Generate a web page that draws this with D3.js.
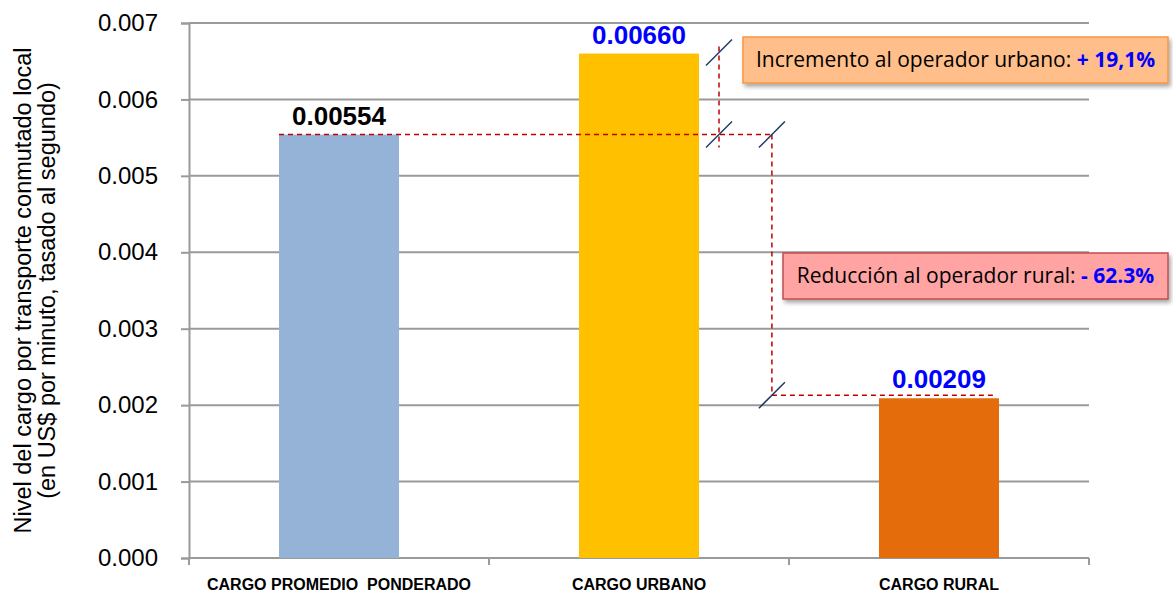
<!DOCTYPE html>
<html>
<head>
<meta charset="utf-8">
<script src="https://cdn.jsdelivr.net/npm/d3@7"></script>
<style>
  html, body { margin: 0; padding: 0; background: #fff; }
  svg { display: block; font-family: "Liberation Sans", Arial, sans-serif; }
</style>
</head>
<body>
<svg id="chart" width="1173" height="593"></svg>
<script>
// ---- data ----
const categories = ["CARGO PROMEDIO  PONDERADO", "CARGO URBANO", "CARGO RURAL"];
const values = [0.00554, 0.00660, 0.00209];
const valueLabels = ["0.00554", "0.00660", "0.00209"];
const barColors = ["#95B3D7", "#FFC000", "#E46C0A"];
const labelColors = ["#000000", "#0000FF", "#0000FF"];
const yTicks = [0, 0.001, 0.002, 0.003, 0.004, 0.005, 0.006, 0.007];
const yTitle = ["Nivel del cargo por transporte conmutado local", "(en US$ por minuto, tasado al segundo)"];
const noteUrban = ["Incremento al operador urbano: ", "+ 19,1%"];
const noteRural = ["Reducción al operador rural: ", "- 62.3%"];

// ---- layout ----
const svg = d3.select("#chart");
const pLeft = 189, pRight = 1089, pTop = 23, pBottom = 558;

const x = d3.scaleBand().domain(categories).range([pLeft, pRight]).paddingInner(0.6).paddingOuter(0.3);
const y = d3.scaleLinear().domain([0, 0.007]).range([pBottom, pTop]);

// gridlines
svg.append("g").selectAll("line").data(yTicks).join("line")
  .attr("x1", pLeft).attr("x2", pRight)
  .attr("y1", d => y(d)).attr("y2", d => y(d))
  .attr("stroke", "#9a9a9a").attr("stroke-width", 2);

// y axis
const yAxis = d3.axisLeft(y).tickValues(yTicks).tickFormat(d3.format(".3f")).tickSize(8).tickPadding(23);
const gy = svg.append("g").attr("transform", `translate(${pLeft},0)`).call(yAxis);
gy.select(".domain").attr("stroke", "#9a9a9a").attr("stroke-width", 2);
gy.selectAll(".tick line").attr("stroke", "#9a9a9a").attr("stroke-width", 2);
gy.selectAll(".tick text").attr("font-size", 24).attr("fill", "#000")
  .attr("font-family", "Liberation Sans, Arial, sans-serif");

// x axis
const xAxis = d3.axisBottom(x).tickSize(0).tickPadding(21);
const gx = svg.append("g").attr("transform", `translate(0,${pBottom})`).call(xAxis);
gx.select(".domain").remove();
gx.selectAll(".tick text").attr("font-size", 16).attr("font-weight", "bold").attr("fill", "#000")
  .attr("font-family", "Liberation Sans, Arial, sans-serif").style("white-space", "pre");
// category separator ticks
const sepX = [pLeft, ...categories.map(c => x(c) + x.bandwidth() + x.step() * 0.3)];
svg.append("g").selectAll("line").data(sepX).join("line")
  .attr("x1", d => d).attr("x2", d => d)
  .attr("y1", pBottom).attr("y2", pBottom + 7)
  .attr("stroke", "#9a9a9a").attr("stroke-width", 2);

// y title
const yt = svg.append("text").attr("transform", `translate(31,${(pTop + pBottom) / 2}) rotate(-90)`)
  .attr("text-anchor", "middle").attr("font-size", 23.5).attr("fill", "#000");
yt.selectAll("tspan").data(yTitle).join("tspan")
  .attr("x", 0).attr("dy", (d, i) => i === 0 ? 0 : 24).text(d => d);

// bars
svg.append("g").selectAll("rect").data(values).join("rect")
  .attr("x", (d, i) => x(categories[i])).attr("width", x.bandwidth())
  .attr("y", d => y(d)).attr("height", d => pBottom - y(d))
  .attr("fill", (d, i) => barColors[i]);

// value labels
svg.append("g").selectAll("text").data(values).join("text")
  .attr("x", (d, i) => x(categories[i]) + x.bandwidth() / 2)
  .attr("y", d => y(d) - 10)
  .attr("text-anchor", "middle").attr("font-size", 26).attr("font-weight", "bold")
  .attr("fill", (d, i) => labelColors[i]).text((d, i) => valueLabels[i]);

// ---- annotation guides ----
const red = "#C00000", navy = "#1F3864";
const xu = x(categories[1]), xr = x(categories[2]), bw = x.bandwidth();
const xA = xu + bw + 20;            // vertical guide next to urban bar
const xB = xr - x.step() * 0.357;   // vertical guide before rural bar
const yAvg = y(values[0]), yUrb = y(values[1]), yRur = y(values[2]) - 3;

const g = svg.append("g").attr("fill", "none").attr("stroke", red).attr("stroke-width", 1.5).attr("stroke-dasharray", "5,4");
g.append("line").attr("x1", x(categories[0])).attr("x2", xB).attr("y1", yAvg).attr("y2", yAvg);
g.append("line").attr("x1", xA).attr("x2", xA).attr("y1", yUrb - 7).attr("y2", yAvg + 13);
g.append("line").attr("x1", xB).attr("x2", xB).attr("y1", yAvg).attr("y2", yRur);
g.append("line").attr("x1", xB).attr("x2", xr + bw - 6).attr("y1", yRur).attr("y2", yRur);

const slashes = [[xA, yUrb - 1], [xA, yAvg], [xB, yAvg], [xB, yRur]];
svg.append("g").selectAll("line").data(slashes).join("line")
  .attr("x1", d => d[0] - 13).attr("y1", d => d[1] + 13)
  .attr("x2", d => d[0] + 13).attr("y2", d => d[1] - 13)
  .attr("stroke", navy).attr("stroke-width", 1.5);

// ---- notes ----
const defs = svg.append("defs");
const f = defs.append("filter").attr("id", "shadow").attr("x", "-10%").attr("y", "-30%").attr("width", "130%").attr("height", "180%");
f.append("feDropShadow").attr("dx", 2).attr("dy", 3).attr("stdDeviation", 2).attr("flood-color", "#000").attr("flood-opacity", 0.35);

function note(x0, y0, w, h, fill, stroke, parts) {
  svg.append("rect").attr("x", x0).attr("y", y0).attr("width", w).attr("height", h)
    .attr("fill", fill).attr("stroke", stroke).attr("stroke-width", 1.5).attr("filter", "url(#shadow)");
  const t = svg.append("text").attr("x", x0 + w / 2).attr("y", y0 + h / 2 + 7)
    .attr("text-anchor", "middle").attr("font-size", 21).attr("fill", "#000")
    .attr("font-family", "Open Sans, Liberation Sans, sans-serif");
  t.append("tspan").text(parts[0]).style("white-space", "pre");
  t.append("tspan").attr("font-weight", "bold").attr("fill", "#0000FF").text(parts[1]);
}
note(743, 37, 425, 46, "#FFBE8A", "#F79646", noteUrban);
note(783, 253, 385, 46, "#FFA3A3", "#C0504D", noteRural);
</script>
</body>
</html>
